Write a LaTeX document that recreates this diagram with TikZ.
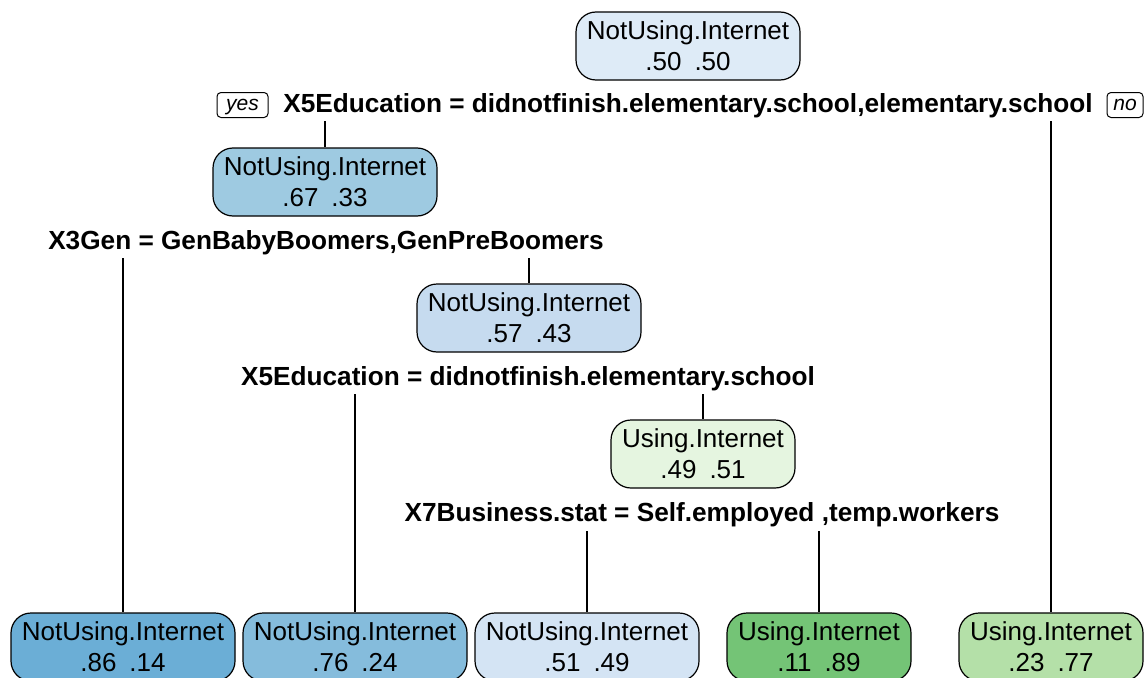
\documentclass[tikz,border=0pt]{standalone}
\usepackage{fontspec}
\setmainfont{Liberation Sans}
\definecolor{cRoot}{HTML}{DEEBF7}
\definecolor{cN2}{HTML}{9ECAE1}
\definecolor{cN3}{HTML}{C6DBEF}
\definecolor{cN4}{HTML}{E5F5E0}
\definecolor{cL1}{HTML}{6BAED6}
\definecolor{cL2}{HTML}{85BCDC}
\definecolor{cL3}{HTML}{D4E4F4}
\definecolor{cL4}{HTML}{74C476}
\definecolor{cL5}{HTML}{B4E0A8}
\begin{document}
\begin{tikzpicture}[x=1pt,y=-1pt,
  treenode/.style={draw=black, line width=1.2pt, rounded corners=20pt, align=center,
    minimum height=68pt, inner sep=0pt, font=\fontsize{26}{31}\selectfont},
  notuse/.style={treenode, minimum width=224pt},
  use/.style={treenode, minimum width=184pt},
  splitlabel/.style={font=\fontsize{26.2}{31}\selectfont\bfseries, inner sep=0pt},
  tag/.style={draw=black, line width=1pt, rounded corners=4pt,
    font=\fontsize{21}{23}\selectfont\itshape, text height=15pt, text depth=4pt,
    inner xsep=2pt, inner ysep=3pt},
  branch/.style={draw=black, line width=1.2pt}
]
\useasboundingbox (0,0) rectangle (1145,677);

% internal nodes
\node[notuse, fill=cRoot] (n1) at (688,46) {NotUsing.Internet\\.50\enspace.50};
\node[notuse, fill=cN2] (n2) at (325,182) {NotUsing.Internet\\.67\enspace.33};
\node[notuse, fill=cN3] (n3) at (529,318) {NotUsing.Internet\\.57\enspace.43};
\node[use, fill=cN4] (n4) at (703,454) {Using.Internet\\.49\enspace.51};

% leaves
\node[notuse, fill=cL1] (l1) at (123,647) {NotUsing.Internet\\.86\enspace.14};
\node[notuse, fill=cL2] (l2) at (355,647) {NotUsing.Internet\\.76\enspace.24};
\node[notuse, fill=cL3] (l3) at (587,647) {NotUsing.Internet\\.51\enspace.49};
\node[use, fill=cL4] (l4) at (819,647) {Using.Internet\\.11\enspace.89};
\node[use, fill=cL5] (l5) at (1051,647) {Using.Internet\\.23\enspace.77};

% split labels
\node[splitlabel] (s1) at (688,106) {X5Education = didnotfinish.elementary.school,elementary.school};
\node[splitlabel] (s2) at (326,243) {X3Gen = GenBabyBoomers,GenPreBoomers};
\node[splitlabel] (s3) at (528,379) {X5Education = didnotfinish.elementary.school};
\node[splitlabel] (s4) at (702,515) {X7Business.stat = Self.employed ,temp.workers};

% yes / no tags
\node[tag, minimum width=51pt] (yes) at (242.5,105) {yes};
\node[tag, minimum width=36pt] (no) at (1125,105) {no};

% branch starts below each split label
\coordinate (b1l) at (325,121);
\coordinate (b1r) at (1051,121);
\coordinate (b2l) at (123,258);
\coordinate (b2r) at (529,258);
\coordinate (b3l) at (355,394);
\coordinate (b3r) at (703,394);
\coordinate (b4l) at (587,531);
\coordinate (b4r) at (819,531);

\draw[branch] (b1l) -- (n2.north);
\draw[branch] (b1r) -- (l5.north);
\draw[branch] (b2l) -- (l1.north);
\draw[branch] (b2r) -- (n3.north);
\draw[branch] (b3l) -- (l2.north);
\draw[branch] (b3r) -- (n4.north);
\draw[branch] (b4l) -- (l3.north);
\draw[branch] (b4r) -- (l4.north);
\end{tikzpicture}
\end{document}
